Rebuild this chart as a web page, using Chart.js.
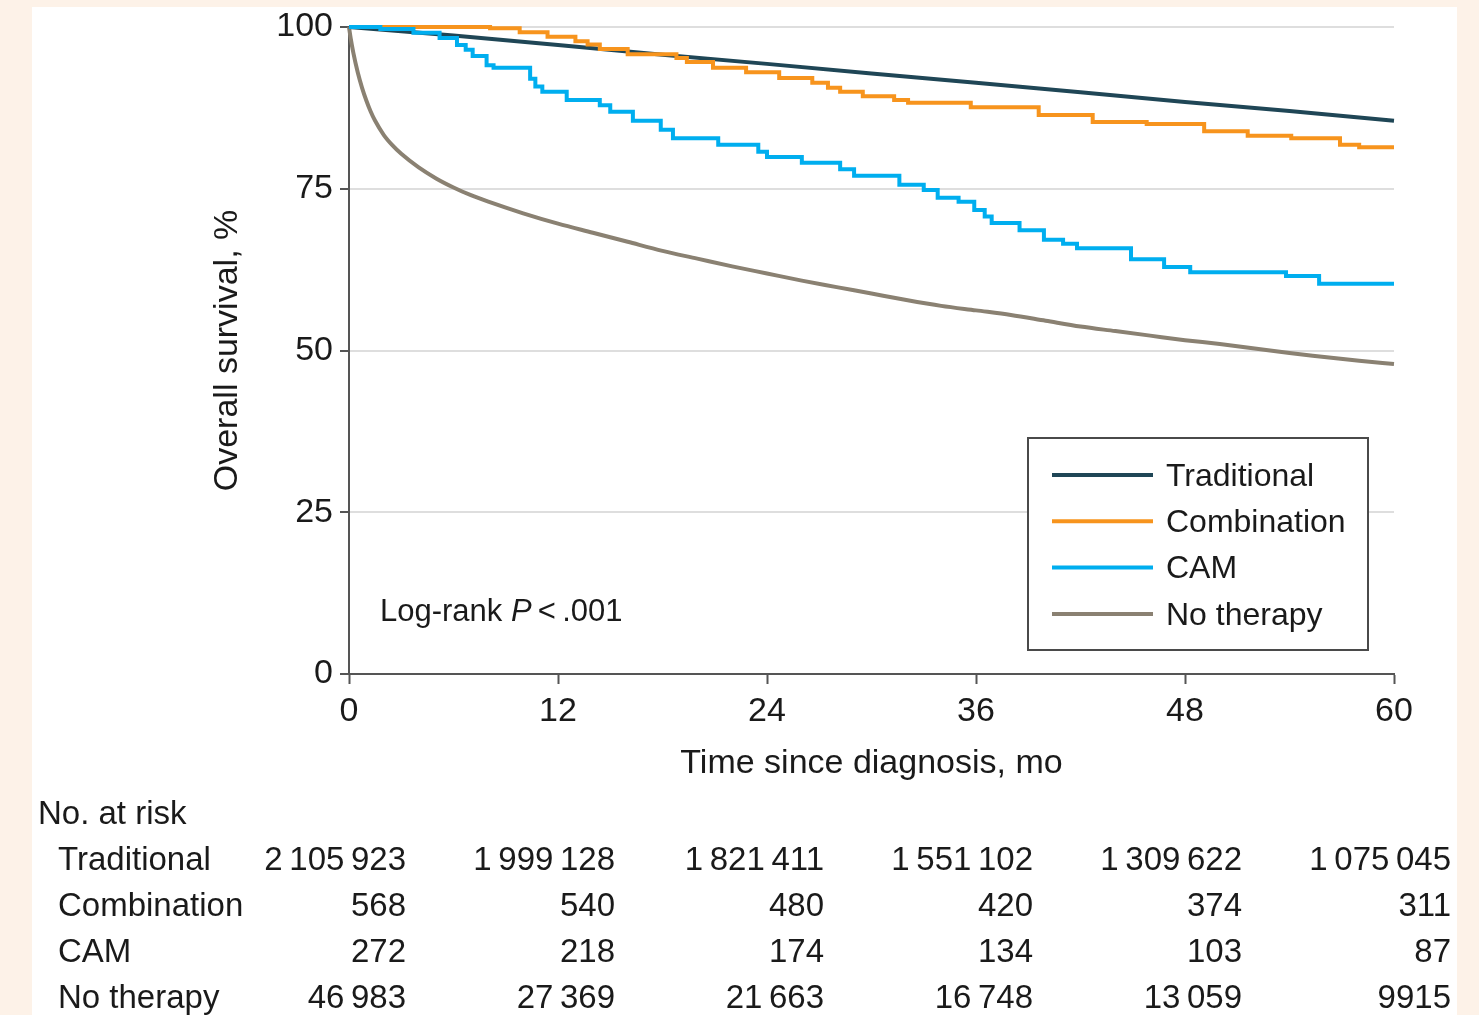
<!DOCTYPE html>
<html>
<head>
<meta charset="utf-8">
<script src="https://cdn.jsdelivr.net/npm/chart.js@4.4.1/dist/chart.umd.min.js"></script>
<style>
html, body { margin: 0; padding: 0; background: #fdf2e8; }
body { width: 1479px; height: 1015px; overflow: hidden; position: relative; }
#wrap { position: absolute; left: 32px; top: 7px; width: 1425px; height: 1008px; background: #fff; }
</style>
</head>
<body>
<div id="wrap"><canvas id="kmChart" width="1425" height="1008"></canvas></div>
<script>
const seriesNames = ['Traditional', 'Combination', 'CAM', 'No therapy'];
const seriesColors = ['#1f4656', '#f7941d', '#00aeef', '#8a8172'];

const yTicks = [0, 25, 50, 75, 100];
const xTicks = [0, 12, 24, 36, 48, 60];

const traditionalTime = [0, 6, 12, 18, 24, 30, 36, 42, 48, 54, 60];
const traditionalSurv = [100, 98.7, 97.2, 95.7, 94.3, 92.8, 91.4, 89.9, 88.4, 87.0, 85.5];

const combinationTime = [0, 8.1, 9.8, 11.4, 13.0, 13.7, 14.4, 16.0, 18.8, 19.4, 20.9, 22.8, 24.7, 26.6, 27.5, 28.2, 29.5, 31.3, 32.1, 35.7, 39.6, 42.7, 45.8, 49.1, 51.6, 54.1, 56.9, 58.0, 60];
const combinationSurv = [100, 99.8, 99.2, 98.5, 97.8, 97.3, 96.6, 95.8, 95.2, 94.6, 93.7, 93.0, 92.1, 91.4, 90.6, 90.0, 89.3, 88.7, 88.3, 87.6, 86.4, 85.3, 85.0, 83.9, 83.2, 82.8, 81.8, 81.4, 81.4];

const camTime = [0, 1.8, 3.7, 5.2, 6.2, 6.7, 7.1, 7.9, 8.3, 10.4, 10.7, 11.1, 12.5, 14.4, 15.0, 16.3, 17.9, 18.6, 21.2, 23.5, 24.0, 26.0, 28.2, 29.0, 31.6, 33.0, 33.8, 35.0, 35.9, 36.5, 36.9, 38.5, 39.9, 41.0, 41.8, 44.9, 46.8, 48.3, 53.8, 55.7, 60];
const camSurv = [100, 99.7, 99.1, 98.3, 97.2, 96.5, 95.5, 94.1, 93.7, 92.0, 90.8, 90.0, 88.7, 87.9, 86.9, 85.5, 84.1, 82.8, 81.8, 80.7, 79.9, 79.0, 78.0, 77.0, 75.6, 74.8, 73.6, 73.0, 71.7, 70.7, 69.7, 68.6, 67.1, 66.5, 65.8, 64.1, 62.9, 62.1, 61.5, 60.3, 60.3];

const noTherapyTime = [0, 0.1, 0.25, 0.5, 0.75, 1, 1.25, 1.5, 2, 2.5, 3, 4, 5, 6, 7, 8, 10, 12, 14, 16, 18, 20, 22, 24, 26, 28, 30, 32, 34, 36, 38, 40, 42, 44, 46, 48, 50, 52, 54, 56, 58, 60];
const noTherapySurv = [100, 98.2, 96, 93, 90.6, 88.6, 86.9, 85.5, 83.3, 81.7, 80.4, 78.3, 76.6, 75.2, 74, 73, 71.2, 69.6, 68.2, 66.8, 65.4, 64.2, 63, 61.9, 60.8, 59.8, 58.8, 57.8, 56.9, 56.2, 55.5, 54.6, 53.7, 53, 52.3, 51.6, 51, 50.3, 49.6, 49, 48.4, 47.9];

const riskTimes = [0, 12, 24, 36, 48, 60];
const riskTraditional = [2105923, 1999128, 1821411, 1551102, 1309622, 1075045];
const riskCombination = [568, 540, 480, 420, 374, 311];
const riskCam = [272, 218, 174, 134, 103, 87];
const riskNoTherapy = [46983, 27369, 21663, 16748, 13059, 9915];

const fontFamily = "'Liberation Sans', Arial, sans-serif";
const textColor = '#1a1a1a';

function toPoints(times, values) {
    return times.map((t, i) => ({ x: t, y: values[i] }));
}

function formatCount(n) {
    const s = String(n);
    if (s.length < 5) return s;
    return s.replace(/\B(?=(\d{3})+(?!\d))/g, '\u2009');
}

// legend, log-rank note and the at-risk table are drawn on the canvas
const extrasPlugin = {
    id: 'kmExtras',
    afterDraw(chart) {
        const ctx = chart.ctx;
        const area = chart.chartArea;
        const xScale = chart.scales.x;
        ctx.save();

        // legend box
        const boxW = 340, boxH = 212;
        const boxX = area.right - 26 - boxW;
        const boxY = area.bottom - 24 - boxH;
        ctx.fillStyle = '#fff';
        ctx.fillRect(boxX, boxY, boxW, boxH);
        ctx.strokeStyle = '#4a4a4a';
        ctx.lineWidth = 2;
        ctx.strokeRect(boxX, boxY, boxW, boxH);
        ctx.font = '32px ' + fontFamily;
        ctx.textBaseline = 'middle';
        ctx.textAlign = 'left';
        chart.data.datasets.forEach((ds, i) => {
            const y = boxY + 37 + i * 46.3;
            ctx.strokeStyle = ds.borderColor;
            ctx.lineWidth = 4;
            ctx.beginPath();
            ctx.moveTo(boxX + 24, y);
            ctx.lineTo(boxX + 125, y);
            ctx.stroke();
            ctx.fillStyle = textColor;
            ctx.fillText(ds.label, boxX + 138, y + 2);
        });

        // log-rank note
        let lx = area.left + 31;
        const ly = area.bottom - 62;
        ctx.font = '31px ' + fontFamily;
        ctx.fillText('Log-rank ', lx, ly);
        lx += ctx.measureText('Log-rank ').width;
        ctx.font = 'italic 31px ' + fontFamily;
        ctx.fillText('P', lx, ly);
        lx += ctx.measureText('P').width;
        ctx.font = '31px ' + fontFamily;
        ctx.fillText('\u2009<\u2009.001', lx, ly);

        // number at risk table
        ctx.font = '33px ' + fontFamily;
        ctx.fillStyle = textColor;
        ctx.textAlign = 'left';
        ctx.fillText('No. at risk', 6, 808);
        const rows = [riskTraditional, riskCombination, riskCam, riskNoTherapy];
        rows.forEach((row, r) => {
            const y = 854 + r * 46;
            ctx.textAlign = 'left';
            ctx.fillText(seriesNames[r], 26, y);
            ctx.textAlign = 'right';
            row.forEach((n, c) => {
                ctx.fillText(formatCount(n), xScale.getPixelForValue(riskTimes[c]) + 57, y);
            });
        });
        ctx.restore();
    }
};

const datasets = [
    { label: seriesNames[0], data: toPoints(traditionalTime, traditionalSurv), borderColor: seriesColors[0], order: 2 },
    { label: seriesNames[1], data: toPoints(combinationTime, combinationSurv), borderColor: seriesColors[1], stepped: true, order: 1 },
    { label: seriesNames[2], data: toPoints(camTime, camSurv), borderColor: seriesColors[2], stepped: true, order: 0 },
    { label: seriesNames[3], data: toPoints(noTherapyTime, noTherapySurv), borderColor: seriesColors[3], cubicInterpolationMode: 'monotone', order: 3 }
].map(ds => Object.assign({ borderWidth: 4, pointRadius: 0, fill: false, clip: 10 }, ds));

new Chart(document.getElementById('kmChart'), {
    type: 'line',
    data: { datasets: datasets },
    options: {
        responsive: false,
        animation: false,
        events: [],
        layout: { padding: { left: 0, right: 63, top: 20, bottom: 231 } },
        plugins: {
            legend: { display: false },
            tooltip: { enabled: false }
        },
        scales: {
            x: {
                type: 'linear',
                min: 0,
                max: 60,
                afterBuildTicks: axis => { axis.ticks = xTicks.map(v => ({ value: v })); },
                afterFit: axis => { axis.height = 110; axis.paddingLeft = 0; axis.paddingRight = 0; },
                ticks: { color: textColor, font: { family: fontFamily, size: 34 }, padding: 7, maxRotation: 0 },
                grid: { drawOnChartArea: false, drawTicks: true, tickLength: 10, tickColor: '#555', tickWidth: 2 },
                border: { color: '#555', width: 2 },
                title: {
                    display: true,
                    text: 'Time since diagnosis, mo',
                    color: textColor,
                    font: { family: fontFamily, size: 34 },
                    padding: { top: 0, bottom: 0 }
                }
            },
            y: {
                min: 0,
                max: 100,
                afterBuildTicks: axis => { axis.ticks = yTicks.map(v => ({ value: v })); },
                afterFit: axis => { axis.width = 317; axis.paddingTop = 0; axis.paddingBottom = 0; },
                ticks: { color: textColor, font: { family: fontFamily, size: 34, lineHeight: 1 }, padding: 7 },
                grid: { color: '#dedede', lineWidth: 2, drawTicks: true, tickLength: 9, tickColor: '#555', tickWidth: 2 },
                border: { color: '#555', width: 2 },
                title: {
                    display: true,
                    text: 'Overall survival, %',
                    color: textColor,
                    font: { family: fontFamily, size: 34 },
                    padding: { top: 175.6, bottom: 0 }
                }
            }
        }
    },
    plugins: [extrasPlugin]
});
</script>
</body>
</html>
